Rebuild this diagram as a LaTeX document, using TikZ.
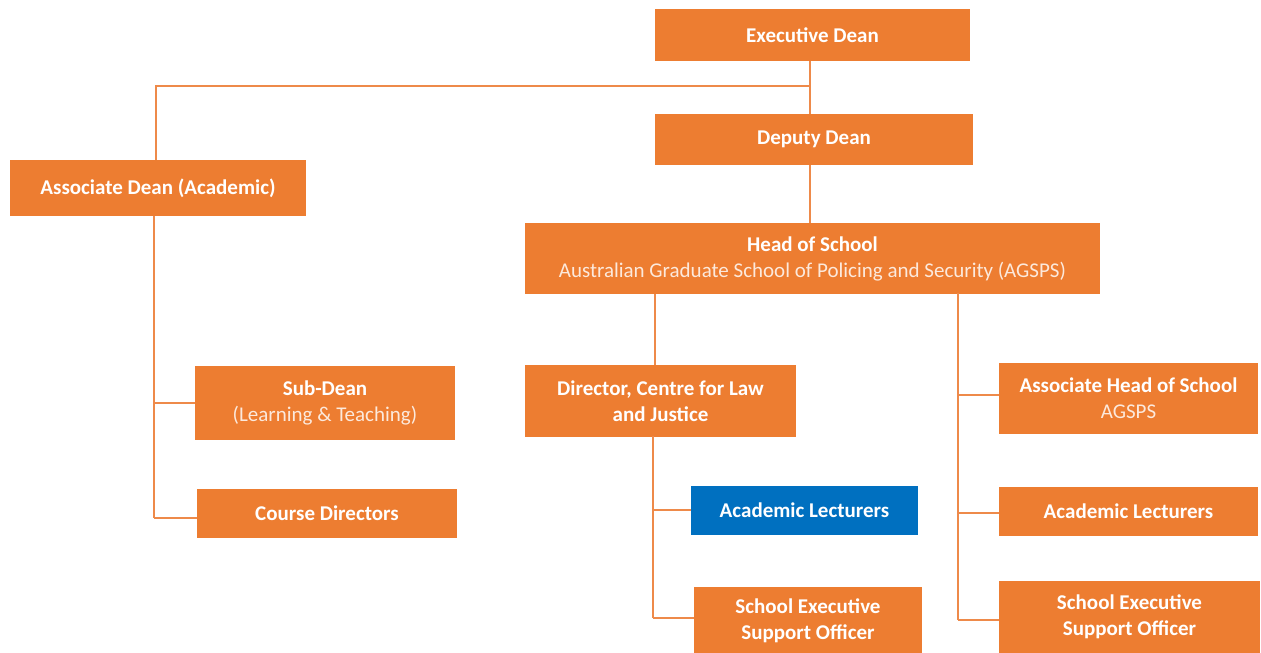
\documentclass[tikz,border=0pt]{standalone}
\usepackage{fontspec}
\setmainfont{Carlito}
\definecolor{org}{HTML}{ED7D31}
\definecolor{blu}{HTML}{0070C0}
\definecolor{lnk}{HTML}{EE8A4A}
\definecolor{sub}{HTML}{FCE9DC}
\begin{document}
\begin{tikzpicture}[x=1pt,y=-1pt,
  box/.style={fill=org, draw=none, inner sep=0pt, text=white, align=center,
    font=\fontsize{21}{26}\selectfont\bfseries},
  bluebox/.style={box, fill=blu},
  link/.style={draw=lnk, line width=1.3pt}]
\useasboundingbox (0,0) rectangle (1261,653);
\newcommand{\subline}[1]{{\mdseries\color{sub}#1}}
\node[box, minimum width=315pt, minimum height=52pt] (ed) at (812.5,35) {Executive Dean};
\node[box, minimum width=318pt, minimum height=51pt] (dd) at (814,139.5) {Deputy Dean};
\node[box, minimum width=296pt, minimum height=56pt] (ad) at (158,188) {Associate Dean (Academic)};
\node[box, minimum width=575pt, minimum height=71pt] (hs) at (812.5,258.5) {Head of School\\\subline{Australian Graduate School of Policing and Security (AGSPS)}};
\node[box, minimum width=271pt, minimum height=72pt] (dir) at (660.5,401) {Director, Centre for Law\\and Justice};
\node[box, minimum width=259pt, minimum height=71pt] (ah) at (1128.5,398.5) {Associate Head of School\\\subline{AGSPS}};
\node[box, minimum width=260pt, minimum height=74pt] (sd) at (325,402.5) {Sub-Dean\\\subline{(Learning \& Teaching)}};
\node[box, minimum width=260pt, minimum height=49pt] (cd) at (327,513.5) {Course Directors};
\node[bluebox, minimum width=227pt, minimum height=49pt] (al1) at (804.5,510.5) {Academic Lecturers};
\node[box, minimum width=259pt, minimum height=49pt] (al2) at (1128.5,511.5) {Academic Lecturers};
\node[box, minimum width=228pt, minimum height=69pt] (se1) at (808,621) {School Executive\\Support Officer};
\node[box, minimum width=261pt, minimum height=72pt] (se2) at (1129.5,617) {School Executive\\Support Officer};
% junction coordinates
\coordinate (j0) at (810,86);
\coordinate (j1) at (156,86);
\coordinate (r0) at (958,293);
\coordinate (r1) at (958,395);
\coordinate (r2) at (958,513);
\coordinate (r3) at (958,620);
\coordinate (d0) at (653,436);
\coordinate (d1) at (653,510);
\coordinate (d2) at (653,618);
\coordinate (a1) at (154,403);
\coordinate (a2) at (154,518);
% connectors
\draw[link] (ed.south -| j0) -- (dd.north -| j0);
\draw[link] (j0) -- (j1) -- (ad.north -| j1);
\draw[link] (dd.south -| j0) -- (hs.north -| j0);
\draw[link] (hs.south -| 655,0) -- (dir.north -| 655,0);
\draw[link] (r0) -- (r3);
\draw[link] (r1) -- (ah.west |- r1);
\draw[link] (r2) -- (al2.west |- r2);
\draw[link] (r3) -- (se2.west |- r3);
\draw[link] (d0) -- (d2);
\draw[link] (d1) -- (al1.west |- d1);
\draw[link] (d2) -- (se1.west |- d2);
\draw[link] (ad.south -| a1) -- (a2);
\draw[link] (a1) -- (sd.west |- a1);
\draw[link] (a2) -- (cd.west |- a2);
\end{tikzpicture}
\end{document}
